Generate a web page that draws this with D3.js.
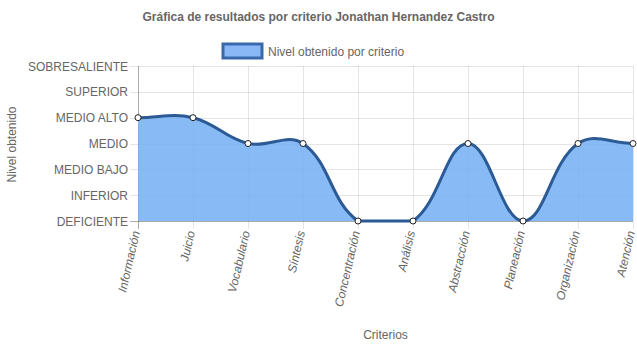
<!DOCTYPE html>
<html>
<head>
<meta charset="utf-8">
<script src="https://cdn.jsdelivr.net/npm/d3@7/dist/d3.min.js"></script>
<style>
  html, body { margin: 0; padding: 0; background: #fff; }
  svg { display: block; font-family: "Liberation Sans", Arial, sans-serif; }
</style>
</head>
<body>
<svg id="chart" width="637" height="348"></svg>
<script>
// Criteria evaluated and the level reached on each one
const criterios = ["Información", "Juicio", "Vocabulario", "Síntesis", "Concentración",
                   "Análisis", "Abstracción", "Planeación", "Organización", "Atención"];
const niveles = ["DEFICIENTE", "INFERIOR", "MEDIO BAJO", "MEDIO", "MEDIO ALTO", "SUPERIOR", "SOBRESALIENTE"];
const valores = [4, 4, 3, 3, 0, 0, 3, 0, 3, 3];

const titulo = "Gráfica de resultados por criterio Jonathan Hernandez Castro";
const leyenda = "Nivel obtenido por criterio";
const tituloX = "Criterios";
const tituloY = "Nivel obtenido";

const W = 637, H = 348;
const area = { left: 138, right: 633, top: 66, bottom: 221 };

const svg = d3.select("#chart");
const textColor = "#666";
const gridColor = "rgba(0,0,0,0.1)";
const fillColor = "rgba(120,176,245,0.88)";
const lineColor = "#2c5a94";

const x = d3.scalePoint().domain(criterios).range([area.left, area.right]);
const y = d3.scaleLinear().domain([0, niveles.length - 1]).range([area.bottom, area.top]);

// Title
svg.append("text")
  .attr("x", (area.left + area.right) / 2 - 67).attr("y", 21)
  .attr("text-anchor", "middle").attr("font-size", 12).attr("font-weight", "bold")
  .attr("fill", textColor).text(titulo);

// Legend
svg.append("rect").attr("x", 223).attr("y", 44).attr("width", 39).attr("height", 14)
  .attr("fill", "#8ab8f7").attr("stroke", "#3a69ab").attr("stroke-width", 3);
svg.append("text").attr("x", 268).attr("y", 55.5).attr("font-size", 12)
  .attr("fill", textColor).text(leyenda);

// Grid
const grid = svg.append("g");
grid.selectAll("line.h").data(d3.range(niveles.length)).join("line")
  .attr("x1", area.left - 8).attr("x2", area.right)
  .attr("y1", d => Math.round(y(d)) + 0.5).attr("y2", d => Math.round(y(d)) + 0.5)
  .attr("stroke", gridColor);
grid.selectAll("line.v").data(criterios).join("line")
  .attr("y1", area.top).attr("y2", area.bottom + 8)
  .attr("x1", d => Math.round(x(d)) + 0.5).attr("x2", d => Math.round(x(d)) + 0.5)
  .attr("stroke", gridColor);
// axis borders
svg.append("line").attr("x1", area.left + 0.5).attr("x2", area.left + 0.5)
  .attr("y1", area.top).attr("y2", area.bottom + 8).attr("stroke", "rgba(0,0,0,0.25)");
svg.append("line").attr("x1", area.left - 8).attr("x2", area.right)
  .attr("y1", Math.round(y(0)) + 0.5).attr("y2", Math.round(y(0)) + 0.5).attr("stroke", "rgba(0,0,0,0.25)");

// Y tick labels
svg.append("g").selectAll("text").data(niveles).join("text")
  .attr("x", area.left - 10).attr("y", (d, i) => y(i) + 4.5)
  .attr("text-anchor", "end").attr("font-size", 12).attr("fill", textColor).text(d => d);

// X tick labels (rotated)
svg.append("g").selectAll("text").data(criterios).join("text")
  .attr("transform", d => `translate(${x(d) + 2},${area.bottom + 11}) rotate(-77)`)
  .attr("text-anchor", "end").attr("font-size", 12).attr("font-style", "italic")
  .attr("fill", textColor).text(d => d);

// Axis titles
svg.append("text").attr("x", (area.left + area.right) / 2).attr("y", 339)
  .attr("text-anchor", "middle").attr("font-size", 12).attr("fill", textColor).text(tituloX);
svg.append("text").attr("transform", `translate(16,${(area.top + area.bottom) / 2 + 1}) rotate(-90)`)
  .attr("text-anchor", "middle").attr("font-size", 12).attr("fill", textColor).text(tituloY);

// Spline with tension 0.4, control points capped to the chart area
const pts = valores.map((v, i) => ({ x: x(criterios[i]), y: y(v) }));
const tension = 0.4;
const ctrl = pts.map((cur, i) => {
  const prev = i > 0 ? pts[i - 1] : cur;
  const next = i < pts.length - 1 ? pts[i + 1] : cur;
  const d01 = Math.hypot(cur.x - prev.x, cur.y - prev.y);
  const d12 = Math.hypot(next.x - cur.x, next.y - cur.y);
  let s01 = d01 / (d01 + d12), s12 = d12 / (d01 + d12);
  if (isNaN(s01)) s01 = 0; if (isNaN(s12)) s12 = 0;
  const fa = tension * s01, fb = tension * s12;
  const cap = p => ({
    x: Math.max(area.left, Math.min(area.right, p.x)),
    y: Math.max(area.top, Math.min(area.bottom, p.y))
  });
  return {
    cp1: cap({ x: cur.x - fa * (next.x - prev.x), y: cur.y - fa * (next.y - prev.y) }),
    cp2: cap({ x: cur.x + fb * (next.x - prev.x), y: cur.y + fb * (next.y - prev.y) })
  };
});
const path = d3.path();
path.moveTo(pts[0].x, pts[0].y);
for (let i = 1; i < pts.length; i++) {
  const a = ctrl[i - 1].cp2, b = ctrl[i].cp1;
  path.bezierCurveTo(a.x, a.y, b.x, b.y, pts[i].x, pts[i].y);
}
const lineD = path.toString();
const areaD = lineD + `L${pts[pts.length - 1].x},${y(0)}L${pts[0].x},${y(0)}Z`;

svg.append("path").attr("d", areaD).attr("fill", fillColor);
svg.append("path").attr("d", lineD).attr("fill", "none")
  .attr("stroke", lineColor).attr("stroke-width", 3);

// Points
svg.append("g").selectAll("circle").data(pts).join("circle")
  .attr("cx", d => d.x).attr("cy", d => d.y).attr("r", 3)
  .attr("fill", "#fff").attr("stroke", "#222").attr("stroke-width", 1);
</script>
</body>
</html>
